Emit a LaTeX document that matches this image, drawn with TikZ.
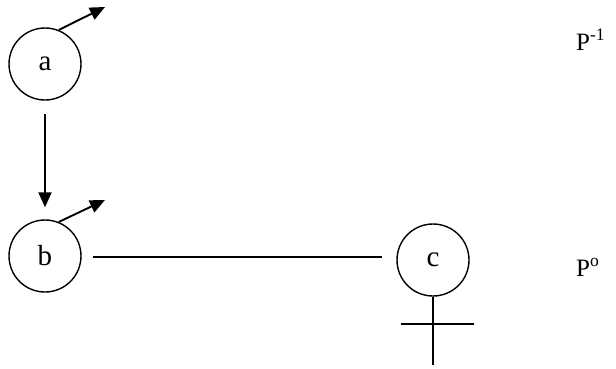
\documentclass[tikz,border=0pt]{standalone}
\usepackage{fontspec}
\setmainfont{Liberation Serif}
\usetikzlibrary{arrows.meta}
\begin{document}
\begin{tikzpicture}[x=1pt,y=-1pt,
  state/.style={circle,draw,line width=1.4pt,minimum size=72pt,inner sep=0pt,font=\fontsize{29}{31}\selectfont},
  arr/.style={line width=1.9pt,-{Triangle[length=15pt,width=13pt]}},
  ln/.style={line width=1.5pt},
  lbl/.style={font=\fontsize{25}{27}\selectfont,anchor=base west,inner sep=0pt}]
\useasboundingbox (0,0) rectangle (616,368);
\node[state] (a) at (45,64) {a};
\node[state] (b) at (45,256) {b};
\node[state] (c) at (433,260) {c};
\coordinate (ta) at (105,7);
\coordinate (tb) at (105,200);
\coordinate (cs) at (433,365);
\coordinate (cl) at (401,324);
\coordinate (cr) at (474,324);
\coordinate (le) at (382,257);
\draw[arr] (a.68) -- (ta);
\draw[arr] (b.68) -- (tb);
\draw[arr] ([yshift=-13pt]a.south) -- ([yshift=12pt]b.north);
\draw[ln] ([xshift=11pt,yshift=-1pt]b.east) -- (le);
\draw[ln] (c.south) -- (cs);
\draw[ln] (cl) -- (cr);
\node[lbl] (p1) at (576,50) {P\textsuperscript{-1}};
\node[lbl] (p0) at (576,276) {P\textsuperscript{o}};
\end{tikzpicture}
\end{document}
